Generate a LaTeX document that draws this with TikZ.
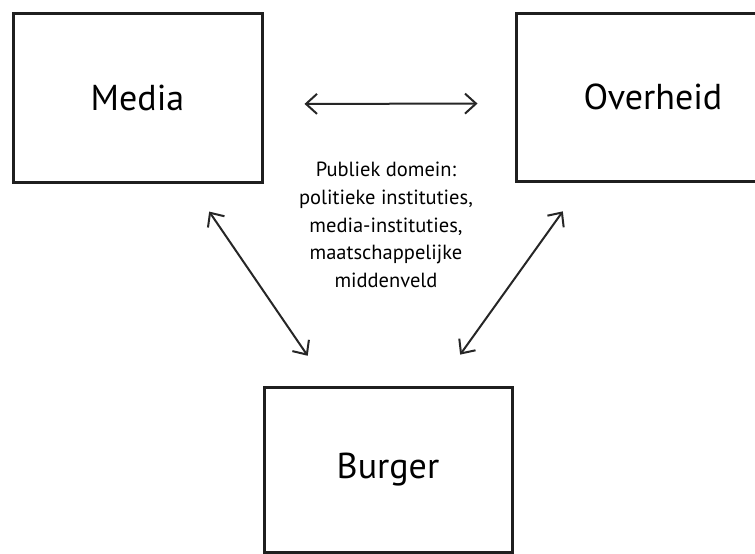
\documentclass[tikz,border=0pt]{standalone}
\usepackage{fontspec}
\setmainfont{PT Sans}
\usetikzlibrary{arrows.meta}
\tikzset{
  box/.style={draw=black!88, line width=3pt, inner sep=0pt, font=\fontsize{36}{42}\selectfont},
  link/.style={<->, >={Straight Barb[length=11pt,width=20pt]}, line width=2pt, draw=black!85},
  domain text/.style={align=center, inner sep=0pt, font=\fontsize{20.5}{27.75}\selectfont}
}
\begin{document}
\begin{tikzpicture}[x=1pt,y=-1pt]
  \useasboundingbox (0,0) rectangle (755,554);

  \node[box, minimum width=249pt, minimum height=169pt] (media) at (137.5,97.5) {Media};
  \node[box, minimum width=274pt, minimum height=168pt] (overheid) at (653,97) {Overheid};
  \node[box, minimum width=248pt, minimum height=165pt] (burger) at (388,469.5) {Burger};

  \node[domain text] (domein) at (386,225)
    {Publiek domein:\\politieke instituties,\\media-instituties,\\maatschappelijke\\middenveld};

  % relaties tussen de drie actoren
  \draw[link, shorten <=41pt, shorten >=37pt]
    ([yshift=-6.5pt]media.east) -- ([yshift=-6.5pt]overheid.west);
  \draw[link, shorten <=34pt, shorten >=36pt]
    ([xshift=52.5pt]media.south) -- ([xshift=-60pt]burger.north);
  \draw[link, shorten <=35.5pt, shorten >=38pt]
    ([xshift=-69.5pt]overheid.south) -- ([xshift=50pt]burger.north);
\end{tikzpicture}
\end{document}
